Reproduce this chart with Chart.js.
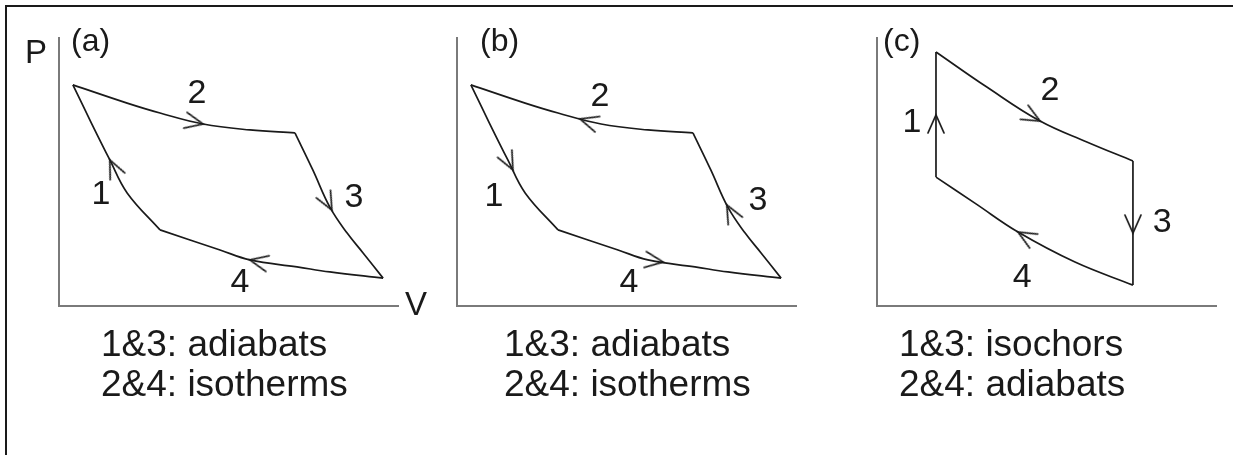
<!DOCTYPE html>
<html>
<head>
<meta charset="utf-8">
<script src="https://cdn.jsdelivr.net/npm/chart.js@4"></script>
<style>
  html, body { margin: 0; padding: 0; background: #fff; }
  body { width: 1233px; height: 455px; position: relative; overflow: hidden;
         font-family: "Liberation Sans", Arial, sans-serif; color: #1a1a1a; }
  #frame { position: absolute; left: 5px; top: 5px; width: 1300px; height: 500px;
           border-left: 2px solid #1a1a1a; border-top: 2px solid #1a1a1a; }
  canvas { position: absolute; top: 0; }
  .caption { position: absolute; top: 324px; font-size: 37px; line-height: 40px; white-space: pre; }
</style>
</head>
<body>
<div id="frame"></div>
<canvas id="panel-a" width="440" height="330" style="left:0px"></canvas>
<canvas id="panel-b" width="440" height="330" style="left:398px"></canvas>
<canvas id="panel-c" width="415" height="330" style="left:818px"></canvas>
<div class="caption" id="cap-a" style="left:101px"></div>
<div class="caption" id="cap-b" style="left:504px"></div>
<div class="caption" id="cap-c" style="left:899px"></div>
<script>
// axis names (only drawn on the first panel)
const axisNames = ["P", "V"];
const panelTags = ["(a)", "(b)", "(c)"];
const strokeNames = ["1", "2", "3", "4"];

// cycle used in (a) and (b): V and P in arbitrary units (axes run 0..10)
const curve1V = [2.98, 2.01, 1.50, 0.97, 0.41];
const curve1P = [2.84, 4.22, 5.45, 6.79, 8.25];
const curve2V = [0.41, 2.01, 2.98, 4.25, 5.63, 6.96];
const curve2P = [8.25, 7.57, 7.20, 6.79, 6.57, 6.46];
const curve3V = [6.96, 7.49, 7.99, 8.50, 8.97, 9.56];
const curve3P = [6.46, 5.07, 3.69, 2.72, 1.98, 1.04];
const curve4V = [9.56, 7.99, 7.02, 5.63, 4.75, 2.98];
const curve4P = [1.04, 1.27, 1.46, 1.72, 2.09, 2.84];

// cycle used in (c)
const cCurve1V = [1.74, 1.74];
const cCurve1P = [4.81, 9.48];
const cCurve2V = [1.74, 3.24, 4.81, 6.19, 7.55];
const cCurve2P = [9.48, 8.17, 6.90, 6.12, 5.41];
const cCurve3V = [7.55, 7.55];
const cCurve3P = [5.41, 0.78];
const cCurve4V = [7.55, 5.84, 4.16, 2.92, 1.74];
const cCurve4P = [0.78, 1.64, 2.76, 3.81, 4.81];

// arrow heads: position on the curve and heading in degrees (clockwise from +V)
const arrowsAV = [1.50, 4.25, 8.05, 5.63];
const arrowsAP = [5.45, 6.79, 3.58, 1.72];
const arrowsAAngle = [245, 12, 62, 192];
const arrowsBV = [1.65, 3.63, 7.96, 6.08];
const arrowsBP = [5.08, 6.98, 3.77, 1.64];
const arrowsBAngle = [63, 197, 242, 8];
const arrowsCV = [1.74, 4.81, 7.55, 4.16];
const arrowsCP = [7.13, 6.90, 2.72, 2.76];
const arrowsCAngle = [270, 29, 90, 210];

// where the stroke numbers 1..4 sit
const labelsAV = [1.24, 4.07, 8.70, 5.34];
const labelsAP = [4.25, 8.02, 4.14, 0.97];
const labelsBV = [1.09, 4.22, 8.88, 5.07];
const labelsBP = [4.18, 7.91, 4.03, 0.97];
const labelsCV = [1.03, 5.10, 8.41, 4.28];
const labelsCP = [6.94, 8.13, 3.21, 1.16];

const captionsA = ["1&3: adiabats", "2&4: isotherms"];
const captionsB = ["1&3: adiabats", "2&4: isotherms"];
const captionsC = ["1&3: isochors", "2&4: adiabats"];

const INK = "#1a1a1a";
const AXIS = "#7a7a7a";
const FONT = '"Liberation Sans", Arial, sans-serif';

function chevron() {
    const c = document.createElement("canvas");
    c.width = 44;
    c.height = 44;
    const g = c.getContext("2d");
    g.strokeStyle = INK;
    g.lineWidth = 1.7;
    g.lineCap = "round";
    g.beginPath();
    g.moveTo(4, 14);
    g.lineTo(22, 22);
    g.lineTo(4, 30);
    g.stroke();
    return c;
}
const arrowHead = chevron();

const marks = {
    id: "marks",
    afterDatasetsDraw(chart, args, o) {
        const { ctx, chartArea: a, scales: { x, y } } = chart;
        ctx.save();
        ctx.fillStyle = INK;
        ctx.textBaseline = "alphabetic";
        ctx.font = "34px " + FONT;
        ctx.textAlign = "center";
        strokeNames.forEach((t, i) => {
            ctx.fillText(t, x.getPixelForValue(o.v[i]), y.getPixelForValue(o.p[i]) + 12);
        });
        ctx.textAlign = "left";
        ctx.font = "32px " + FONT;
        ctx.fillText(o.tag, a.left + o.tagDx, a.top + 13);
        if (o.axisNames) {
            ctx.font = "33px " + FONT;
            ctx.fillText(axisNames[0], a.left - 34, a.top + 25);
            ctx.fillText(axisNames[1], a.right + 7, a.bottom + 9);
        }
        ctx.restore();
    }
};

function line(vs, ps, straight) {
    return {
        data: vs.map((v, i) => ({ x: v, y: ps[i] })),
        showLine: true,
        borderColor: INK,
        borderWidth: 1.7,
        pointRadius: 0,
        tension: straight ? 0 : 0.4,
        fill: false
    };
}

function arrows(vs, ps, angles) {
    return {
        data: vs.map((v, i) => ({ x: v, y: ps[i] })),
        showLine: false,
        pointStyle: arrowHead,
        rotation: angles,
        pointRadius: 10
    };
}

function axis() {
    return {
        min: 0,
        max: 10,
        grid: { display: false, drawTicks: false },
        ticks: { display: false },
        border: { display: true, color: AXIS, width: 2 }
    };
}

function makePanel(id, datasets, label, width) {
    new Chart(document.getElementById(id), {
        type: "scatter",
        data: { datasets: datasets },
        options: {
            responsive: false,
            animation: false,
            events: [],
            layout: { padding: { left: 59, top: 38, right: width - 398, bottom: 24 } },
            scales: { x: axis(), y: axis() },
            plugins: {
                legend: { display: false },
                tooltip: { enabled: false },
                marks: label
            }
        },
        plugins: [marks]
    });
}

makePanel("panel-a", [
    line(curve1V, curve1P), line(curve2V, curve2P),
    line(curve3V, curve3P), line(curve4V, curve4P),
    arrows(arrowsAV, arrowsAP, arrowsAAngle)
], { v: labelsAV, p: labelsAP, tag: panelTags[0], tagDx: 12, axisNames: true }, 440);

makePanel("panel-b", [
    line(curve1V, curve1P), line(curve2V, curve2P),
    line(curve3V, curve3P), line(curve4V, curve4P),
    arrows(arrowsBV, arrowsBP, arrowsBAngle)
], { v: labelsBV, p: labelsBP, tag: panelTags[1], tagDx: 23, axisNames: false }, 440);

makePanel("panel-c", [
    line(cCurve1V, cCurve1P, true), line(cCurve2V, cCurve2P),
    line(cCurve3V, cCurve3P, true), line(cCurve4V, cCurve4P),
    arrows(arrowsCV, arrowsCP, arrowsCAngle)
], { v: labelsCV, p: labelsCP, tag: panelTags[2], tagDx: 6, axisNames: false }, 415);

document.getElementById("cap-a").textContent = captionsA.join("\n");
document.getElementById("cap-b").textContent = captionsB.join("\n");
document.getElementById("cap-c").textContent = captionsC.join("\n");
</script>
</body>
</html>
